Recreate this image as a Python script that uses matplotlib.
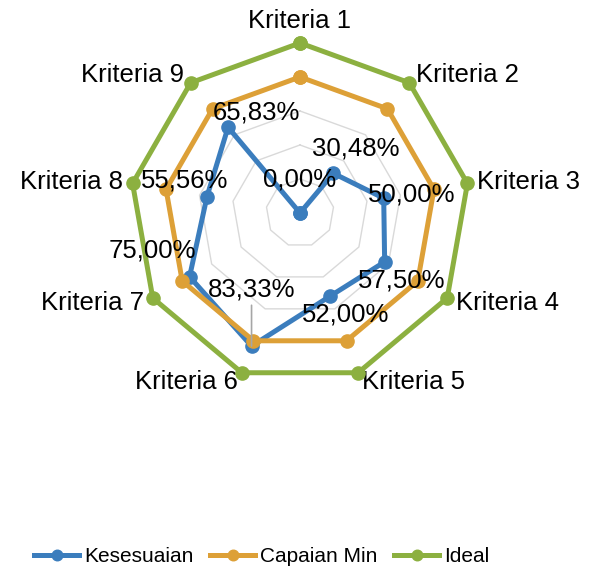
import numpy as np
import matplotlib.pyplot as plt

plt.rcParams['font.family'] = ['Liberation Sans', 'DejaVu Sans']

kriteria = ['Kriteria 1', 'Kriteria 2', 'Kriteria 3', 'Kriteria 4', 'Kriteria 5',
            'Kriteria 6', 'Kriteria 7', 'Kriteria 8', 'Kriteria 9']
kesesuaian = [0.0, 0.3048, 0.50, 0.575, 0.52, 0.8333, 0.75, 0.5556, 0.6583]
capaian_min = [0.8, 0.8, 0.8, 0.8, 0.8, 0.8, 0.8, 0.8, 0.8]
ideal = [1.0, 1.0, 1.0, 1.0, 1.0, 1.0, 1.0, 1.0, 1.0]

# where each percentage label sits relative to its point (pixels, y up)
label_offsets = [(0, 33), (22, 25), (28, 4), (17, -19), (15, -18),
                 (0, 57), (-37, 26), (-22, 16), (28, 15)]

c_blue = '#3b7dbd'
c_orange = '#dda037'
c_green = '#8cb040'

n = len(kriteria)
theta = np.linspace(0, 2 * np.pi, n, endpoint=False)
theta_c = np.append(theta, theta[0])

fig = plt.figure(figsize=(5.96, 5.73), dpi=100)
ax = fig.add_axes([0.2181, 0.3316, 0.5705, 0.5934], projection='polar')
ax.set_theta_zero_location('N')
ax.set_theta_direction(-1)
ax.set_ylim(0, 1)
ax.grid(False)
ax.set_xticks([])
ax.set_yticks([])
ax.spines['polar'].set_visible(False)
ax.patch.set_visible(False)

# polygon gridlines
for r in [0.2, 0.4, 0.6, 0.8, 1.0]:
    ax.plot(theta_c, [r] * (n + 1), color='#d9d9d9', lw=1, zorder=1)

def series(vals, color, label, z):
    ax.plot(theta_c, list(vals) + [vals[0]], color=color, lw=3.6,
            marker='o', markersize=9.5, label=label, zorder=z,
            solid_joinstyle='round', clip_on=False)

series(kesesuaian, c_blue, 'Kesesuaian', 3)
series(capaian_min, c_orange, 'Capaian Min', 4)
series(ideal, c_green, 'Ideal', 5)

# category labels around the outside
for t, name in zip(theta, kriteria):
    s = np.sin(t)
    if abs(s) < 0.1:
        ha, va = 'center', 'bottom'
    elif s > 0:
        ha, va = 'left', 'center'
    else:
        ha, va = 'right', 'center'
    ax.text(t, 1.06, name, ha=ha, va=va, fontsize=18.5, color='black')

# value labels for Kesesuaian
for i, (t, v) in enumerate(zip(theta, kesesuaian)):
    txt = f'{v * 100:.2f}%'.replace('.', ',')
    dx, dy = label_offsets[i]
    arrow = None
    if abs(dy) > 40:
        arrow = dict(arrowstyle='-', color='#a6a6a6', lw=1.2,
                     shrinkA=1, shrinkB=0)
    ax.annotate(txt, xy=(t, v), xytext=(dx, dy), textcoords='offset pixels',
                ha='center', va='center', fontsize=18.5, color='black',
                arrowprops=arrow, zorder=10)

fig.legend(loc='center', bbox_to_anchor=(262 / 596, 1 - 557 / 573),
           ncol=3, frameon=False, fontsize=15, handlelength=2.15,
           handletextpad=0.25, columnspacing=0.8, markerscale=0.8)

fig.savefig('out.png', dpi=100)
